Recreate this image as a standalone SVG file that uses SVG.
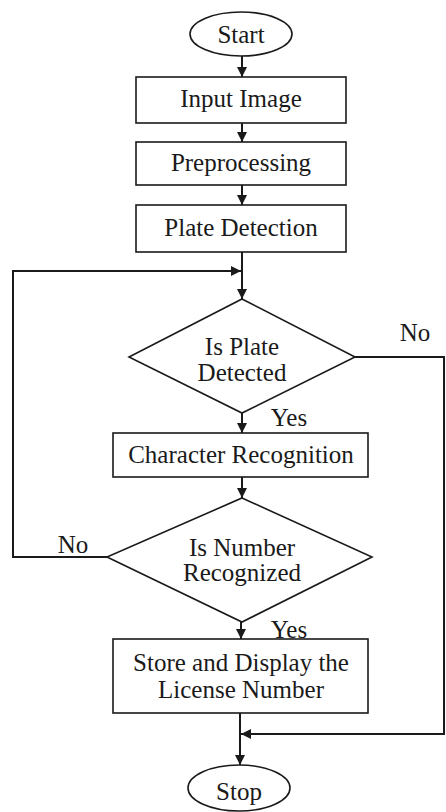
<svg xmlns="http://www.w3.org/2000/svg" width="446" height="812" viewBox="0 0 446 812">
  <style>
    .shape { fill: #ffffff; stroke: #1a1a1a; stroke-width: 1.6; }
    .link { fill: none; stroke: #1a1a1a; stroke-width: 2; }
    text { font-family: "Liberation Serif", "Times New Roman", serif; font-size: 25px; fill: #1a1a1a; text-anchor: middle; }
  </style>
  <defs>
    <marker id="arrow" viewBox="0 0 10 10" refX="10" refY="5" markerWidth="5" markerHeight="5" orient="auto" markerUnits="strokeWidth">
      <path d="M0,0 L10,5 L0,10 Z" fill="#1a1a1a"/>
    </marker>
  </defs>
  <rect width="446" height="812" fill="#ffffff"/>

  <g id="connectors">
    <line class="link" x1="242" y1="56" x2="242" y2="77" marker-end="url(#arrow)"/>
    <line class="link" x1="242" y1="123" x2="242" y2="142" marker-end="url(#arrow)"/>
    <line class="link" x1="242" y1="185" x2="242" y2="205" marker-end="url(#arrow)"/>
    <line class="link" x1="242" y1="252" x2="242" y2="299" marker-end="url(#arrow)"/>
    <line class="link" x1="242" y1="413" x2="242" y2="433" marker-end="url(#arrow)"/>
    <line class="link" x1="242" y1="477" x2="242" y2="498" marker-end="url(#arrow)"/>
    <line class="link" x1="241" y1="622" x2="241" y2="639" marker-end="url(#arrow)"/>
    <line class="link" x1="240" y1="713" x2="240" y2="765" marker-end="url(#arrow)"/>
    <!-- loop back when the number is not recognized -->
    <polyline class="link" points="107,557 13,557 13,271 241,271" marker-end="url(#arrow)"/>
    <!-- skip to stop when no plate is detected -->
    <polyline class="link" points="355,357 444,357 444,734 241,734" marker-end="url(#arrow)"/>
    <text x="415" y="341">No</text>
    <text x="289" y="426">Yes</text>
    <text x="73" y="553">No</text>
    <text x="289" y="638">Yes</text>
  </g>

  <g id="start">
    <ellipse class="shape" cx="241" cy="34" rx="51" ry="22"/>
    <text x="241" y="43">Start</text>
  </g>
  <g id="input-image">
    <rect class="shape" x="136" y="77" width="210" height="46"/>
    <text x="241" y="107">Input Image</text>
  </g>
  <g id="preprocessing">
    <rect class="shape" x="136" y="142" width="210" height="43"/>
    <text x="241" y="171">Preprocessing</text>
  </g>
  <g id="plate-detection">
    <rect class="shape" x="136" y="205" width="210" height="47"/>
    <text x="241" y="236">Plate Detection</text>
  </g>
  <g id="is-plate-detected">
    <polygon class="shape" points="242,299 355,357 242,413 129,357"/>
    <text x="242" y="355">Is Plate</text>
    <text x="242" y="381">Detected</text>
  </g>
  <g id="character-recognition">
    <rect class="shape" x="113" y="433" width="255" height="44"/>
    <text x="241" y="463">Character Recognition</text>
  </g>
  <g id="is-number-recognized">
    <polygon class="shape" points="242,498 372,557 242,622 107,557"/>
    <text x="242" y="556">Is Number</text>
    <text x="242" y="581">Recognized</text>
  </g>
  <g id="store-display">
    <rect class="shape" x="113" y="639" width="255" height="74"/>
    <text x="241" y="671">Store and Display the</text>
    <text x="241" y="698">License Number</text>
  </g>
  <g id="stop">
    <ellipse class="shape" cx="239" cy="788" rx="51" ry="23"/>
    <text x="239" y="800">Stop</text>
  </g>
</svg>
